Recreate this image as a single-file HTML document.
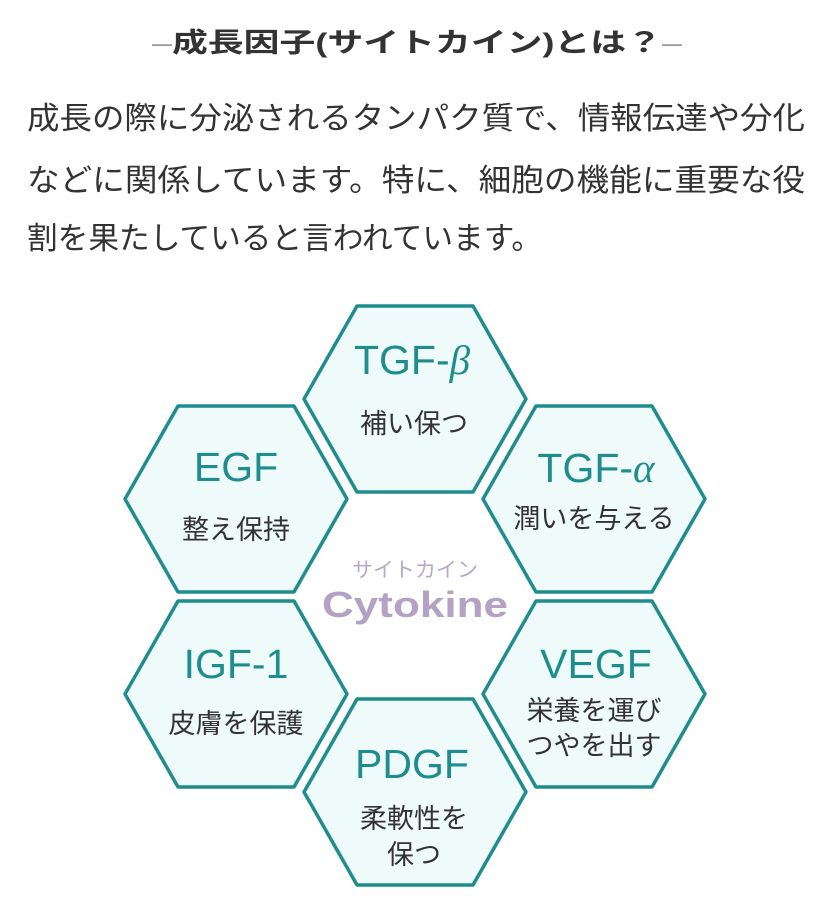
<!DOCTYPE html>
<html><head><meta charset="utf-8"><style>
html,body{margin:0;padding:0;background:#fff;width:835px;height:914px;overflow:hidden}
svg{display:block}
.jp{font-family:"Liberation Sans","Noto Sans CJK JP",sans-serif}
</style></head><body>
<svg width="835" height="914" viewBox="0 0 835 914" class="jp">
<text x="417" y="52" text-anchor="middle" font-size="27" font-weight="bold" fill="#333" textLength="530" lengthAdjust="spacingAndGlyphs"><tspan fill="#999" font-weight="normal">–</tspan>成長因子(サイトカイン)とは？<tspan fill="#999" font-weight="normal">–</tspan></text>
<g font-size="31" fill="#333">
<text x="27" y="129" textLength="778" lengthAdjust="spacingAndGlyphs">成長の際に分泌されるタンパク質で、情報伝達や分化</text>
<text x="27" y="191" textLength="778" lengthAdjust="spacingAndGlyphs">などに関係しています。特に、細胞の機能に重要な役</text>
<text x="27" y="249" textLength="515" lengthAdjust="spacingAndGlyphs">割を果たしていると言われています。</text>
</g>
<g fill="#effafb" stroke="#1f8d8d" stroke-width="3.5" stroke-linejoin="round">
<polygon points="357,306 473,306 526,399 473,492 357,492 304,399"/>
<polygon points="178,406 294,406 347,499 294,592 178,592 125,499"/>
<polygon points="536,406 652,406 705,499 652,592 536,592 483,499"/>
<polygon points="178,601 294,601 347,694 294,787 178,787 125,694"/>
<polygon points="536,601 652,601 705,694 652,787 536,787 483,694"/>
<polygon points="357,699 473,699 526,792 473,885 357,885 304,792"/>
</g>
<g font-size="41" fill="#1f8d8d" text-anchor="middle">
<text x="412" y="374">TGF-<tspan font-family="Liberation Serif,serif" font-style="italic">β</tspan></text>
<text x="236" y="481">EGF</text>
<text x="596" y="482">TGF-<tspan font-family="Liberation Serif,serif" font-style="italic">α</tspan></text>
<text x="236" y="678">IGF-1</text>
<text x="596" y="678">VEGF</text>
<text x="412" y="778">PDGF</text>
</g>
<g font-size="27" fill="#333" text-anchor="middle">
<text x="414" y="433">補い保つ</text>
<text x="236" y="539">整え保持</text>
<text x="594" y="528">潤いを与える</text>
<text x="236" y="733">皮膚を保護</text>
<text x="594" y="720">栄養を運び</text>
<text x="594" y="755">つやを出す</text>
<text x="414" y="828">柔軟性を</text>
<text x="414" y="864">保つ</text>
</g>
<text x="415" y="577" text-anchor="middle" font-size="21" fill="#b9a8c8">サイトカイン</text>
<text x="415" y="617" text-anchor="middle" font-size="36" font-weight="bold" fill="#b3a2c3" textLength="186" lengthAdjust="spacingAndGlyphs">Cytokine</text>
</svg>
</body></html>
